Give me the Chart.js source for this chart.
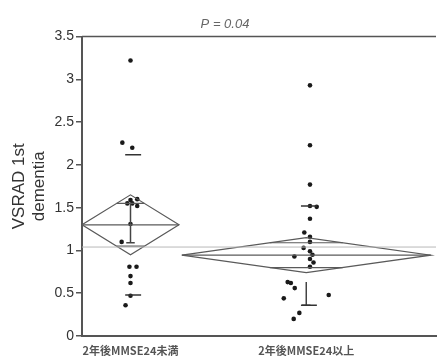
<!DOCTYPE html>
<html>
<head>
<meta charset="utf-8">
<script src="https://cdn.jsdelivr.net/npm/chart.js@4"></script>
<style>
  html, body { margin: 0; padding: 0; background: #fff; }
  #wrap { width: 440px; height: 356px; }
</style>
</head>
<body>
<div id="wrap"><canvas id="oneway" width="440" height="356"></canvas></div>
<script>
// DATA
const groupNames = ['2年後MMSE24未満', '2年後MMSE24以上'];
const groupLeft = [0, 28.2];
const groupRight = [27.4, 98.5];
const groupMeans = [1.30, 0.945];
const diamondUpper = [1.65, 1.15];
const diamondLower = [0.95, 0.74];
const overlapUpper = [1.55, 1.09];
const overlapLower = [1.05, 0.80];
const sdUpper = [2.12, 1.52];
const sdLower = [0.48, 0.36];
const barLow = [1.09, 0.36];
const barHigh = [1.56, 0.63];
const grandMean = 1.04;

// points: value + horizontal jitter (x units)
const g1Values = [3.22, 2.26, 2.20, 1.60, 1.59, 1.55, 1.55, 1.52, 1.31, 1.10, 0.81, 0.81, 0.70, 0.62, 0.47, 0.36];
const g1Jitter = [13.7, 11.4, 14.2, 15.6, 13.7, 12.8, 14.2, 15.6, 13.7, 11.2, 13.4, 15.4, 13.7, 13.7, 13.7, 12.3];
const g2Values = [2.93, 2.23, 1.77, 1.52, 1.51, 1.37, 1.21, 1.16, 1.10, 1.03, 0.99, 0.95, 0.93, 0.90, 0.86, 0.81, 0.63, 0.62, 0.56, 0.48, 0.44, 0.27, 0.20];
const g2Jitter = [64.4, 64.4, 64.4, 64.4, 66.3, 64.4, 62.8, 64.4, 64.4, 62.6, 64.4, 65.1, 60.0, 64.4, 65.4, 64.4, 58.1, 59.0, 60.1, 69.7, 57.0, 61.4, 59.8];

const yTicks = [0, 0.5, 1, 1.5, 2, 2.5, 3, 3.5];

// BUILD DATASETS
const lineColor = '#5a5a5a';
function lineSet(points, color, width) {
    return {
        type: 'scatter',
        data: points,
        showLine: true,
        borderColor: color || lineColor,
        borderWidth: width || 1.2,
        pointRadius: 0,
        tension: 0,
        fill: false
    };
}

const datasets = [];
datasets.push(lineSet([{ x: 0, y: grandMean }, { x: 100, y: grandMean }], '#b8b8b8', 1));

groupNames.forEach((name, i) => {
    const L = groupLeft[i], R = groupRight[i], C = (L + R) / 2, m = groupMeans[i];
    // mean diamond
    datasets.push(lineSet([
        { x: L, y: m }, { x: C, y: diamondUpper[i] }, { x: R, y: m },
        { x: C, y: diamondLower[i] }, { x: L, y: m }
    ]));
    // mean line
    datasets.push(lineSet([{ x: L, y: m }, { x: R, y: m }]));
    // overlap marks
    const hu = (R - L) / 2 * (1 - (overlapUpper[i] - m) / (diamondUpper[i] - m));
    const hl = (R - L) / 2 * (1 - (m - overlapLower[i]) / (m - diamondLower[i]));
    datasets.push(lineSet([{ x: C - hu, y: overlapUpper[i] }, { x: C + hu, y: overlapUpper[i] }]));
    datasets.push(lineSet([{ x: C - hl, y: overlapLower[i] }, { x: C + hl, y: overlapLower[i] }]));
    // std dev lines
    datasets.push(lineSet([{ x: C - 1.5, y: sdUpper[i] }, { x: C + 3, y: sdUpper[i] }], '#333', 1.5));
    datasets.push(lineSet([{ x: C - 1.5, y: sdLower[i] }, { x: C + 3, y: sdLower[i] }], '#333', 1.5));
    // error bar
    datasets.push(lineSet([{ x: C, y: barHigh[i] }, { x: C, y: barLow[i] }], '#444', 1.5));
    datasets.push(lineSet([{ x: C - 1.2, y: barLow[i] }, { x: C + 1.2, y: barLow[i] }], '#444', 1.5));
});

const pts = g1Values.map((v, i) => ({ x: g1Jitter[i], y: v }))
    .concat(g2Values.map((v, i) => ({ x: g2Jitter[i], y: v })));
datasets.push({
    type: 'scatter',
    data: pts,
    pointRadius: 2.3,
    pointBackgroundColor: '#1a1a1a',
    pointBorderWidth: 0
});

const groupCenters = groupLeft.map((l, i) => (l + groupRight[i]) / 2);

// top frame line
const frameTop = {
    id: 'frameTop',
    afterDraw(chart) {
        const { ctx, chartArea } = chart;
        ctx.save();
        ctx.strokeStyle = '#555';
        ctx.lineWidth = 1.5;
        ctx.beginPath();
        ctx.moveTo(chartArea.left, chartArea.top);
        ctx.lineTo(chartArea.right, chartArea.top);
        ctx.stroke();
        ctx.restore();
    }
};

// CHART INITIALIZATION
const ctx = document.getElementById('oneway').getContext('2d');
const chart = new Chart(ctx, {
    type: 'scatter',
    data: { datasets },
    options: {
        responsive: false,
        animation: false,
        layout: { padding: { top: 1, left: 10, right: 0, bottom: 0 } },
        scales: {
            x: {
                type: 'linear',
                min: 0,
                max: 100,
                afterBuildTicks: axis => { axis.ticks = groupCenters.map(v => ({ value: v })); },
                afterFit: scale => { scale.height = 20; },
                ticks: {
                    callback: (v, i) => groupNames[i],
                    font: { family: "'Noto Sans CJK JP'", size: 11, weight: 'bold', lineHeight: 1 },
                    color: '#555',
                    padding: 1,
                    maxRotation: 0,
                    autoSkip: false
                },
                grid: { display: false },
                border: { display: true, color: '#555', width: 2 }
            },
            y: {
                min: 0,
                max: 3.5,
                afterBuildTicks: axis => { axis.ticks = yTicks.map(v => ({ value: v })); },
                afterFit: scale => { scale.width = 72; },
                ticks: {
                    callback: v => String(v),
                    font: { family: "'Liberation Sans', Arial", size: 14 },
                    color: '#333',
                    padding: 2
                },
                grid: { drawOnChartArea: false, drawTicks: true, tickLength: 6, color: '#555', lineWidth: 1.5 },
                border: { display: true, color: '#555', width: 2 },
                title: {
                    display: true,
                    text: ['VSRAD 1st', 'dementia'],
                    font: { family: "'Liberation Sans', Arial", size: 17, lineHeight: 1.15 },
                    color: '#333',
                    padding: { top: 0, bottom: 0 }
                }
            }
        },
        plugins: {
            legend: { display: false },
            tooltip: { enabled: false },
            title: {
                display: true,
                text: 'P = 0.04',
                font: { family: "'Liberation Sans', Arial", size: 13, style: 'italic', weight: 'normal' },
                color: '#666',
                padding: { top: 16, bottom: 4 }
            }
        }
    },
    plugins: [frameTop]
});
</script>
</body>
</html>
